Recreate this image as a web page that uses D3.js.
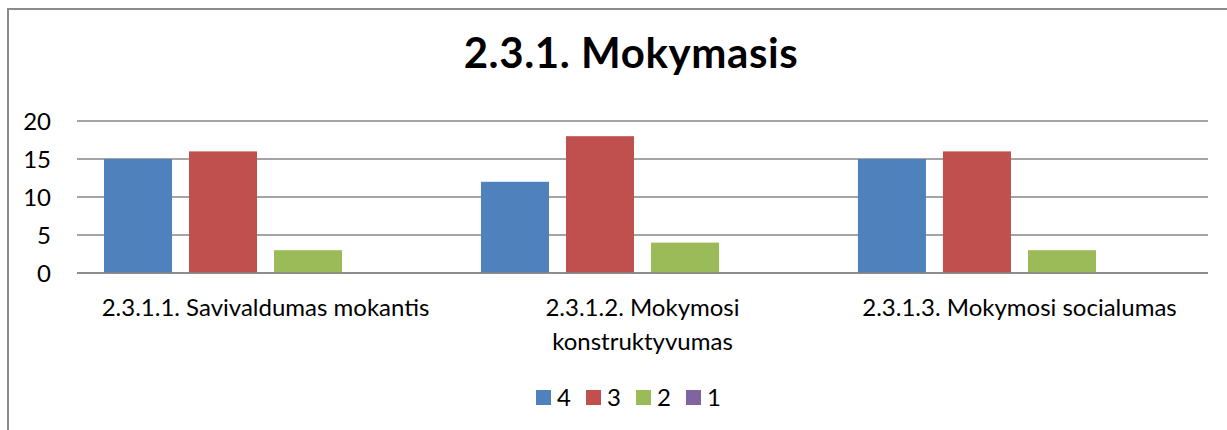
<!DOCTYPE html>
<html>
<head>
<meta charset="utf-8">
<script src="https://cdn.jsdelivr.net/npm/d3@7"></script>
<style>
  body { margin: 0; background: #fff; }
  svg { display: block; }
</style>
</head>
<body>
<div id="chart"></div>
<script>
// Chart data
const categories = ["2.3.1.1. Savivaldumas mokantis", "2.3.1.2. Mokymosi konstruktyvumas", "2.3.1.3. Mokymosi socialumas"];
const categoryLines = [["2.3.1.1. Savivaldumas mokantis"], ["2.3.1.2. Mokymosi", "konstruktyvumas"], ["2.3.1.3. Mokymosi socialumas"]];
const seriesNames = ["4", "3", "2", "1"];
const seriesValues = [
  [15, 12, 15], // 4
  [16, 18, 16], // 3
  [3, 4, 3],    // 2
  [0, 0, 0]     // 1
];
const colors = ["#4F81BD", "#C0504D", "#9BBB59", "#8064A2"];
const yTicks = [0, 5, 10, 15, 20];
const title = "2.3.1. Mokymasis";

const width = 1227, height = 430;
const plot = { left: 77, right: 1208, top: 121, bottom: 273 };
const font = "Lato, 'Open Sans', sans-serif";

const svg = d3.select("#chart").append("svg")
  .attr("width", width)
  .attr("height", height);

// chart frame (cut off at right and bottom)
svg.append("rect")
  .attr("x", 8).attr("y", 9)
  .attr("width", width + 20).attr("height", height + 20)
  .attr("fill", "none")
  .attr("stroke", "#8c8c8c")
  .attr("stroke-width", 2);

// title
svg.append("text")
  .attr("x", 631).attr("y", 68)
  .attr("text-anchor", "middle")
  .attr("font-family", font)
  .attr("font-weight", "bold")
  .attr("font-size", 42)
  .attr("letter-spacing", 0.6)
  .attr("fill", "#000")
  .text(title);

// scales
const x0 = d3.scaleBand()
  .domain(categories)
  .range([plot.left, plot.right])
  .paddingInner(0.143)
  .paddingOuter(0.0716);

const x1 = d3.scaleBand()
  .domain(seriesNames)
  .range([0, x0.bandwidth()])
  .paddingInner(0.2)
  .paddingOuter(0);

const y = d3.scaleLinear().domain([0, 20]).range([plot.bottom, plot.top]);

// gridlines
svg.append("g")
  .selectAll("line")
  .data(yTicks)
  .join("line")
    .attr("x1", plot.left)
    .attr("x2", plot.right)
    .attr("y1", d => y(d))
    .attr("y2", d => y(d))
    .attr("stroke", "#868686")
    .attr("stroke-width", 1.5);

// y axis labels
svg.append("g")
  .selectAll("text")
  .data(yTicks)
  .join("text")
    .attr("x", 51)
    .attr("y", d => y(d))
    .attr("dy", "0.36em")
    .attr("text-anchor", "end")
    .attr("font-family", font)
    .attr("font-size", 24)
    .attr("fill", "#000")
    .text(d => d);

// bars
const groups = svg.append("g")
  .selectAll("g")
  .data(seriesNames)
  .join("g")
    .attr("fill", (d, i) => colors[i]);

groups.selectAll("rect")
  .data((s, si) => categories.map((c, ci) => ({ c, s, v: seriesValues[si][ci] })))
  .join("rect")
    .attr("x", d => x0(d.c) + x1(d.s))
    .attr("width", x1.bandwidth())
    .attr("y", d => y(d.v))
    .attr("height", d => y(0) - y(d.v));

// baseline drawn over bars
svg.append("line")
  .attr("x1", plot.left).attr("x2", plot.right)
  .attr("y1", y(0)).attr("y2", y(0))
  .attr("stroke", "#868686")
  .attr("stroke-width", 1.5);

// x labels
const xl = svg.append("g")
  .selectAll("text")
  .data(categories)
  .join("text")
    .attr("x", d => x0(d) + x0.bandwidth() / 2)
    .attr("y", 316)
    .attr("text-anchor", "middle")
    .attr("font-family", font)
    .attr("font-size", 24)
    .attr("fill", "#000");

xl.selectAll("tspan")
  .data((d, i) => categoryLines[i])
  .join("tspan")
    .attr("x", function() { return d3.select(this.parentNode).attr("x"); })
    .attr("dy", (d, i) => i === 0 ? 0 : 34)
    .text(d => d);

// legend
const legend = svg.append("g")
  .selectAll("g")
  .data(seriesNames)
  .join("g")
    .attr("transform", (d, i) => `translate(${536 + i * 50},390)`);

legend.append("rect")
  .attr("width", 15).attr("height", 15)
  .attr("fill", (d, i) => colors[i]);

legend.append("text")
  .attr("x", 21).attr("y", 16)
  .attr("font-family", font)
  .attr("font-size", 24)
  .attr("fill", "#000")
  .text(d => d);
</script>
</body>
</html>
